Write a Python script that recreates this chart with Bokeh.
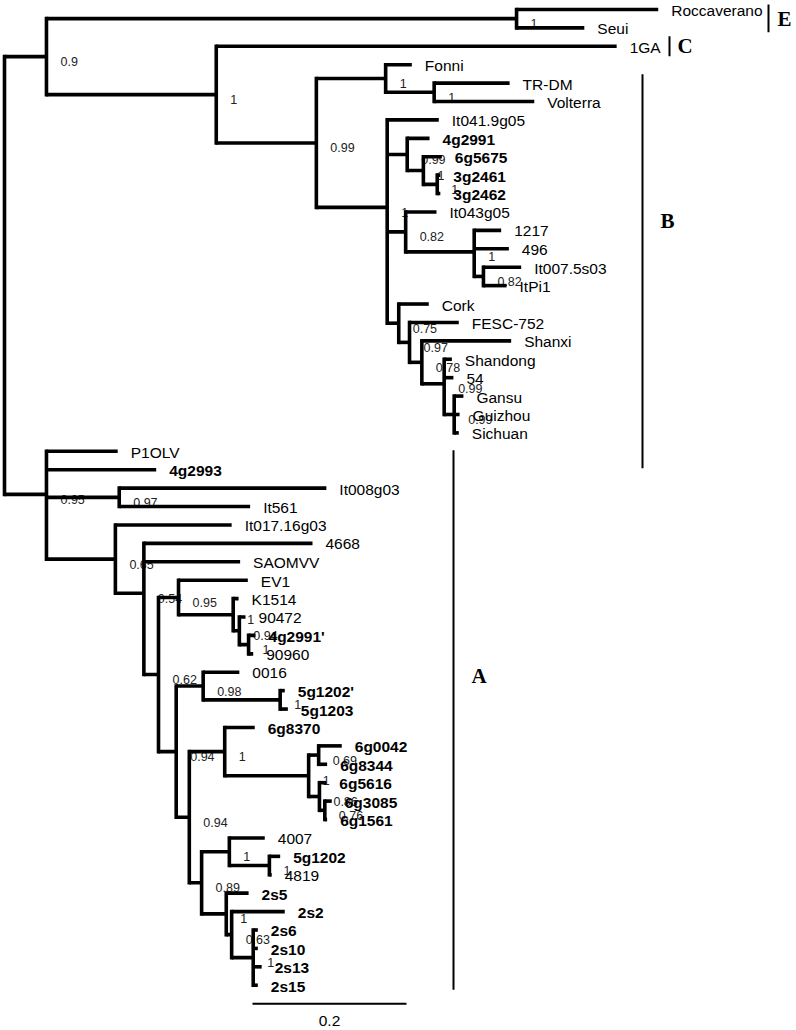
from bokeh.plotting import figure
from bokeh.models import Range1d
from bokeh.embed import file_html
from bokeh.resources import INLINE
from bokeh.core.properties import value

# ---------------- data ----------------
leaves = ["Roccaverano", "Seui", "1GA", "Fonni", "TR-DM", "Volterra", "It041.9g05",
          "4g2991", "6g5675", "3g2461", "3g2462", "It043g05", "1217", "496",
          "It007.5s03", "ItPi1", "Cork", "FESC-752", "Shanxi", "Shandong", "54",
          "Gansu", "Guizhou", "Sichuan", "P1OLV", "4g2993", "It008g03", "It561",
          "It017.16g03", "4668", "SAOMVV", "EV1", "K1514", "90472", "4g2991'",
          "90960", "0016", "5g1202'", "5g1203", "6g8370", "6g0042", "6g8344",
          "6g5616", "6g3085", "6g1561", "4007", "5g1202", "4819", "2s5", "2s2",
          "2s6", "2s10", "2s13", "2s15"]

# distance of each tip from the root (substitutions/site)
leaf_depth = [0.849, 0.753, 0.795, 0.529, 0.656, 0.688, 0.564, 0.552, 0.568, 0.566,
              0.566, 0.561, 0.645, 0.655, 0.671, 0.652, 0.551, 0.590, 0.658, 0.581,
              0.583, 0.596, 0.591, 0.590, 0.147, 0.197, 0.418, 0.319, 0.295, 0.400,
              0.306, 0.316, 0.304, 0.313, 0.326, 0.323, 0.305, 0.364, 0.368, 0.325,
              0.438, 0.419, 0.418, 0.425, 0.419, 0.338, 0.358, 0.347, 0.317, 0.364,
              0.329, 0.329, 0.334, 0.329]

bold_leaves = ["4g2991", "6g5675", "3g2461", "3g2462", "4g2993", "4g2991'", "5g1202'",
               "5g1203", "6g8370", "6g0042", "6g8344", "6g5616", "6g3085", "6g1561",
               "5g1202", "2s5", "2s2", "2s6", "2s10", "2s13", "2s15"]

node_names = ["root", "nTop", "nE", "nBC", "nB", "nFonni", "nTRV", "nB2", "n4g", "n6g",
              "n3g", "nIt043", "n1217", "nIt007", "nCork", "nFESC", "nShanxi",
              "nShandong", "nGansu", "nA", "nIt008", "n115", "n142", "n157", "nEV1",
              "nK", "n90472", "n4g2991p", "n175", "n0016", "n5g", "n188", "n6g8370",
              "n307", "n6g0042", "n318", "n6g3085", "n200", "n4007", "n5g1202",
              "n225", "n230", "n252"]

node_depth = [0.0, 0.0545, 0.665, 0.275, 0.405, 0.495, 0.558, 0.497, 0.523, 0.544,
              0.562, 0.521, 0.610, 0.622, 0.512, 0.526, 0.542, 0.571, 0.584,
              0.0545, 0.149, 0.144, 0.181, 0.200, 0.226, 0.297, 0.305, 0.317, 0.223,
              0.258, 0.358, 0.240, 0.286, 0.395, 0.408, 0.409, 0.416, 0.256, 0.292,
              0.344, 0.288, 0.295, 0.323]

node_children = [
    ["nTop", "nA"],
    ["nE", "nBC"],
    ["Roccaverano", "Seui"],
    ["1GA", "nB"],
    ["nFonni", "nB2"],
    ["Fonni", "nTRV"],
    ["TR-DM", "Volterra"],
    ["It041.9g05", "n4g", "nIt043", "nCork"],
    ["4g2991", "n6g"],
    ["6g5675", "n3g"],
    ["3g2461", "3g2462"],
    ["It043g05", "n1217"],
    ["1217", "496", "nIt007"],
    ["It007.5s03", "ItPi1"],
    ["Cork", "nFESC"],
    ["FESC-752", "nShanxi"],
    ["Shanxi", "nShandong"],
    ["Shandong", "54", "nGansu"],
    ["Gansu", "Guizhou", "Sichuan"],
    ["P1OLV", "4g2993", "nIt008", "n115"],
    ["It008g03", "It561"],
    ["It017.16g03", "n142"],
    ["4668", "SAOMVV", "n157"],
    ["nEV1", "n175"],
    ["EV1", "nK"],
    ["K1514", "n90472"],
    ["90472", "n4g2991p"],
    ["4g2991'", "90960"],
    ["n0016", "n188"],
    ["0016", "n5g"],
    ["5g1202'", "5g1203"],
    ["n6g8370", "n200"],
    ["6g8370", "n307"],
    ["n6g0042", "n318"],
    ["6g0042", "6g8344"],
    ["6g5616", "n6g3085"],
    ["6g3085", "6g1561"],
    ["n4007", "n225"],
    ["4007", "n5g1202"],
    ["5g1202", "4819"],
    ["2s5", "n230"],
    ["2s2", "n252"],
    ["2s6", "2s10", "2s13", "2s15"],
]

node_support = [None, 0.9, 1, 1, 0.99, 1, 1, 1, 0.99, 1,
                1, 0.82, 1, 0.82, 0.75, 0.97, 0.78, 0.99, 0.99,
                0.95, 0.97, 0.65, 0.54, 0.62, 0.95, 1, 0.94, 1, 0.94,
                0.98, 1, 0.94, 1, 1, 0.69, 0.86, 0.76, 0.89, 1,
                1, 1, 0.63, 1]

scale_length = 0.2

clade_letters = ["E", "C", "B", "A"]

# ---------------- layout helpers (reference pixel -> data units) ----------------
PX_PER_UNIT = 770.0
ROOT_PX = 4.0
ROW_PX = 18.5
FIRST_ROW_PX = 5.0
W, H = 796, 1030


def ux(px):
    return (px - ROOT_PX) / PX_PER_UNIT


def uy(py):
    return (py - FIRST_ROW_PX) / ROW_PX


# bracket bar x, top, bottom, letter x (left), letter y  (reference pixels)
bracket_layout = [(768, 0, 28, 777, 15),
                  (669, 32, 52, 677, 42),
                  (642, 70, 466, 660, 218),
                  (453, 448, 990, 471, 675)]

# ---------------- tree geometry ----------------
ypos = {name: i for i, name in enumerate(leaves)}
xpos = dict(zip(leaves, leaf_depth))
xpos.update(zip(node_names, node_depth))
children = dict(zip(node_names, node_children))


def get_y(n):
    if n not in ypos:
        cs = children[n]
        ypos[n] = sum(get_y(c) for c in cs) / len(cs)
    return ypos[n]


for n in node_names:
    get_y(n)

hx0, hx1, hy = [], [], []
vx, vy0, vy1 = [], [], []
for n in node_names:
    cs = children[n]
    ys = [ypos[c] for c in cs]
    vx.append(xpos[n])
    vy0.append(min(ys))
    vy1.append(max(ys))
    for c in cs:
        hx0.append(xpos[n])
        hx1.append(xpos[c])
        hy.append(ypos[c])

p = figure(width=W, height=H,
           x_range=Range1d(ux(0), ux(W)),
           y_range=Range1d(uy(H + 1), uy(-4)),
           x_axis_type=None, y_axis_type=None,
           output_backend="svg", toolbar_location=None, min_border=0)
p.grid.visible = False
p.outline_line_color = None
p.background_fill_color = "white"
p.border_fill_color = "white"

# support values (under the lines)
sx = [xpos[n] for n, s in zip(node_names, node_support) if s is not None]
sy = [ypos[n] for n, s in zip(node_names, node_support) if s is not None]
st = [f"{s:g}" for s in node_support if s is not None]
p.text(x=sx, y=sy, text=st, x_offset=14, y_offset=5,
       text_font=value("Liberation Sans"), text_font_size="12.5px",
       text_align="left", text_baseline="middle", text_color="#222222")

# branches
p.segment(x0=hx0, y0=hy, x1=hx1, y1=hy, line_width=3.6, line_color="black",
          line_cap="butt")
p.segment(x0=vx, y0=vy0, x1=vx, y1=vy1, line_width=3.6, line_color="black",
          line_cap="square")

# tip labels
for bold in (False, True):
    names = [l for l in leaves if (l in bold_leaves) == bold]
    p.text(x=[xpos[l] for l in names], y=[ypos[l] for l in names], text=names,
           x_offset=13, y_offset=1,
           text_font=value("Liberation Sans"), text_font_size="15.5px",
           text_font_style="bold" if bold else "normal",
           text_align="left", text_baseline="middle", text_color="black")

# clade brackets
for letter, (bx, by0, by1, lx, ly) in zip(clade_letters, bracket_layout):
    p.segment(x0=[ux(bx)], y0=[uy(by0)], x1=[ux(bx)], y1=[uy(by1)],
              line_width=2, line_color="black")
    p.text(x=[ux(lx)], y=[uy(ly)], text=[letter],
           text_font=value("Liberation Serif"), text_font_size="21px",
           text_font_style="bold", text_align="left", text_baseline="middle",
           text_color="black")

# scale bar
sb_x0 = ux(252)
sb_y = uy(1004)
p.segment(x0=[sb_x0], y0=[sb_y], x1=[sb_x0 + scale_length], y1=[sb_y],
          line_width=2, line_color="black")
p.text(x=[sb_x0 + scale_length / 2], y=[uy(1021)], text=[f"{scale_length:g}"],
       text_font=value("Liberation Sans"), text_font_size="15.5px",
       text_align="center", text_baseline="middle", text_color="black")

open("out.html", "w").write(file_html(p, INLINE))
